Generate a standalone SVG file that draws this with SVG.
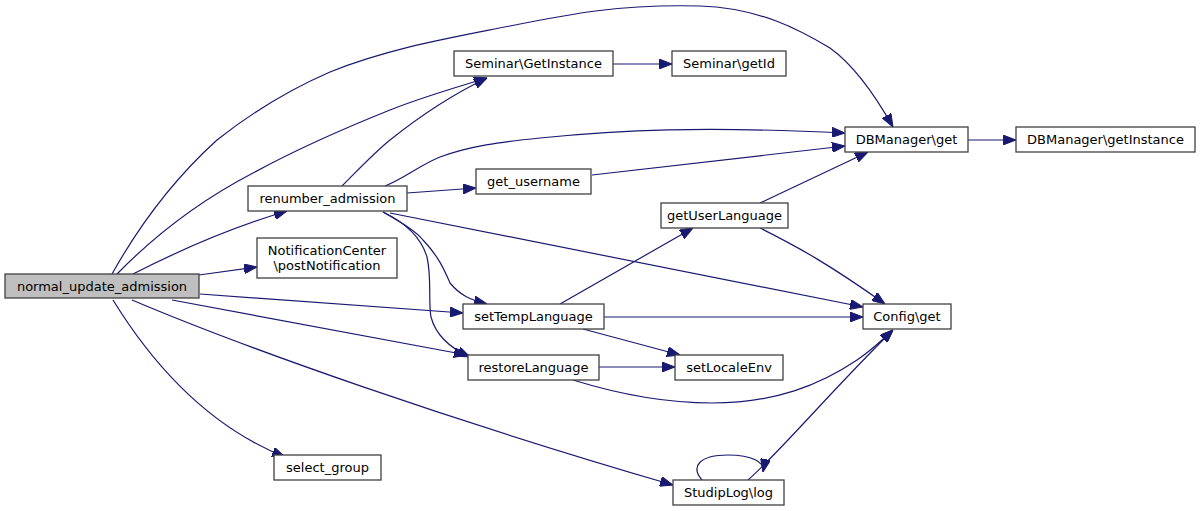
<svg xmlns="http://www.w3.org/2000/svg" width="1200" height="511" viewBox="0 0 1200 511">
<defs>
<style>
.n rect{fill:#ffffff;stroke:#404040;stroke-width:1.3}
.n.root rect{fill:#bfbfbf}
.n text{font-family:"DejaVu Sans",sans-serif;font-size:13px;fill:#000;text-anchor:middle}
.e path{fill:none;stroke:#191970;stroke-width:1.2;marker-end:url(#ah)}
</style>
<marker id="ah" viewBox="0 0 13 10" refX="13" refY="5" markerWidth="13" markerHeight="10" orient="auto" markerUnits="userSpaceOnUse">
<path d="M0,0L13,5L0,10z" fill="#191970" stroke="#191970" stroke-width="1"/>
</marker>
</defs>
<rect width="1200" height="511" fill="#ffffff"/>
<g id="edges" class="e">
<path d="M112,274C140,224 175,178 217,140C260,106 300,85 330,72C390,48 450,38 510,26C570,14 620,4 700,6C760,8 800,30 830,48C855,66 875,95 893,127"/>
<path d="M117,274C160,230 205,198 253,173C310,142 360,122 390,110C420,98 450,89 487,78"/>
<path d="M342,186C360,168 375,152 390,140C415,120 445,98 487,78"/>
<path d="M133,274C180,250 230,228 287,211"/>
<path d="M199,275L257,267"/>
<path d="M385,186C405,178 420,165 440,157C470,146 500,142 540,138C620,130 700,126 845,133"/>
<path d="M407,193L476,188"/>
<path d="M592,175L845,146"/>
<path d="M390,213L863,307"/>
<path d="M760,203L868,152"/>
<path d="M760,228C800,248 830,265 885,304"/>
<path d="M560,304L693,228"/>
<path d="M604,317L863,317"/>
<path d="M583,329L680,355"/>
<path d="M599,367L675,367"/>
<path d="M573,380C615,393 660,403 712,403C775,403 820,385 857,360C872,350 882,340 893,330"/>
<path d="M748,480C780,452 830,392 893,330"/>
<path d="M702,480C690,466 700,455 728,455C752,455 765,462 763,472"/>
<path d="M200,294L463,313"/>
<path d="M172,300L467,355"/>
<path d="M132,300C250,350 450,420 673,485"/>
<path d="M113,300C150,360 205,425 285,457"/>
<path d="M383,212C400,222 415,230 423,240C440,258 445,272 450,283C460,295 470,300 487,304"/>
<path d="M383,212C410,225 422,240 427,257C432,280 428,300 431,317C436,336 450,348 470,357"/>
<path d="M613,64L672,64"/>
<path d="M968,140L1016,140"/>
</g>
<g id="normal_update_admission" class="n root"><rect x="5" y="274" width="194" height="24"/><text x="102" y="290.5">normal_update_admission</text></g>
<g id="renumber_admission" class="n"><rect x="248" y="186" width="159" height="25"/><text x="327.5" y="203">renumber_admission</text></g>
<g id="postNotification" class="n"><rect x="257" y="238" width="140" height="40"/><text x="327" y="254.5">NotificationCenter</text><text x="327" y="269.5">\postNotification</text></g>
<g id="Seminar_GetInstance" class="n"><rect x="454" y="51" width="159" height="25"/><text x="533.5" y="68">Seminar\GetInstance</text></g>
<g id="Seminar_getId" class="n"><rect x="672" y="51" width="114" height="25"/><text x="729" y="68">Seminar\getId</text></g>
<g id="DBManager_get" class="n"><rect x="845" y="127" width="123" height="25"/><text x="906.5" y="144">DBManager\get</text></g>
<g id="DBManager_getInstance" class="n"><rect x="1016" y="127" width="179" height="25"/><text x="1105.5" y="144">DBManager\getInstance</text></g>
<g id="get_username" class="n"><rect x="476" y="169" width="115" height="25"/><text x="533.5" y="186">get_username</text></g>
<g id="getUserLanguage" class="n"><rect x="661" y="203" width="127" height="25"/><text x="724.5" y="220">getUserLanguage</text></g>
<g id="setTempLanguage" class="n"><rect x="463" y="304" width="141" height="25"/><text x="533.5" y="321">setTempLanguage</text></g>
<g id="restoreLanguage" class="n"><rect x="468" y="355" width="131" height="25"/><text x="533.5" y="372">restoreLanguage</text></g>
<g id="setLocaleEnv" class="n"><rect x="675" y="355" width="108" height="25"/><text x="729" y="372">setLocaleEnv</text></g>
<g id="Config_get" class="n"><rect x="863" y="304" width="88" height="25"/><text x="907" y="321">Config\get</text></g>
<g id="StudipLog_log" class="n"><rect x="673" y="480" width="111" height="25"/><text x="728.5" y="497">StudipLog\log</text></g>
<g id="select_group" class="n"><rect x="274" y="455" width="107" height="25"/><text x="327.5" y="472">select_group</text></g>
</svg>
